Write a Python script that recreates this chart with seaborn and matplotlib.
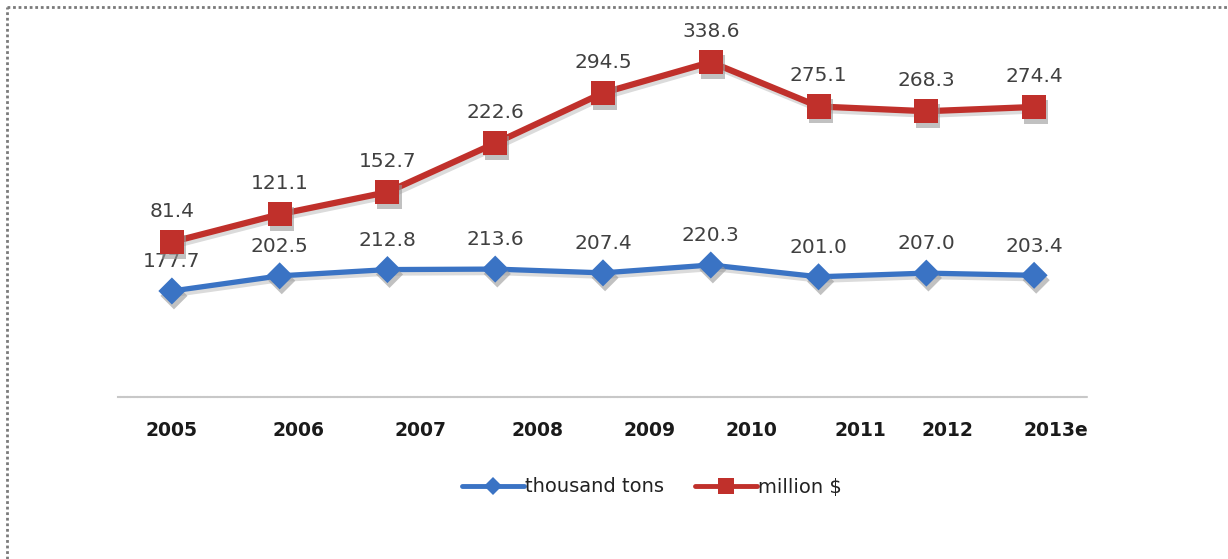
import numpy as np
import matplotlib
matplotlib.use("Agg")
import matplotlib.pyplot as plt
import matplotlib.patheffects as pe
from matplotlib.lines import Line2D
from matplotlib.transforms import ScaledTranslation
import seaborn as sns

# Data
years = ["2005", "2006", "2007", "2008", "2009", "2010", "2011", "2012", "2013e"]
thousand_tons = [177.7, 202.5, 212.8, 213.6, 207.4, 220.3, 201.0, 207.0, 203.4]
million_usd = [81.4, 121.1, 152.7, 222.6, 294.5, 338.6, 275.1, 268.3, 274.4]

BLUE = "#3a73c4"
RED = "#c0302b"
LABEL_GREY = "#404040"

sns.set_theme(style="white")
plt.rcParams["font.family"] = ["DejaVu Sans"]

W, H = 1228, 559
fig = plt.figure(figsize=(W / 100, H / 100), dpi=100)
fig.patch.set_facecolor("white")

# axes box in pixel terms: left 118, right 1088, bottom 397, top 40
ax = fig.add_axes([118 / W, 1 - 397 / H, (1088 - 118) / W, (397 - 40) / H])
ax2 = ax.twinx()

x = np.arange(len(years))

line_shadow = [pe.SimpleLineShadow(offset=(1.5, -2.5), shadow_color="#888888", alpha=0.3), pe.Normal()]
marker_shadow = [pe.SimplePatchShadow(offset=(1.5, -3.5), shadow_rgbFace="#999999", alpha=0.6), pe.Normal()]

# Tonnage series (left scale)
sns.lineplot(x=x, y=thousand_tons, ax=ax, color=BLUE, linewidth=3.8,
             path_effects=line_shadow, legend=False)
sns.scatterplot(x=x, y=thousand_tons, ax=ax, color=BLUE, marker="D", s=190,
                edgecolor="none", path_effects=marker_shadow, legend=False, zorder=3)

# Value series (right scale)
sns.lineplot(x=x, y=million_usd, ax=ax2, color=RED, linewidth=4.5,
             path_effects=line_shadow, legend=False)
sns.scatterplot(x=x, y=million_usd, ax=ax2, color=RED, marker="s", s=300,
                edgecolor="none", path_effects=marker_shadow, legend=False, zorder=3)

ax.set_ylim(4, 589)
ax2.set_ylim(-140.1, 370.1)
ax.set_xlim(-0.5, len(years) - 0.5)

# Value labels above each point
for xi, v in zip(x, thousand_tons):
    ax.annotate(f"{v:.1f}", (xi, v), xytext=(0, 21), textcoords="offset points",
                ha="center", va="center", fontsize=14.5, color=LABEL_GREY)
for xi, v in zip(x, million_usd):
    ax2.annotate(f"{v:.1f}", (xi, v), xytext=(0, 22), textcoords="offset points",
                 ha="center", va="center", fontsize=14.5, color=LABEL_GREY)

# Axis styling
for a in (ax, ax2):
    for side in ("top", "left", "right", "bottom"):
        a.spines[side].set_visible(False)
    a.set_ylabel("")
    a.set_yticks([])
    a.grid(False)
    a.set_facecolor("none")
ax.spines["bottom"].set_visible(True)
ax.spines["bottom"].set_color("#c8c8c8")
ax.spines["bottom"].set_linewidth(1.5)
ax.spines["bottom"].set_linestyle((0, (1, 0.6)))

ax.set_xticks(x)
ax.set_xticklabels(years, fontsize=13.5, fontweight="bold", color="#1a1a1a")
ax.tick_params(axis="x", length=0, pad=17)

# category labels sit slightly right of their points
label_shift_px = [0, 19, 33, 42, 47, 41, 42, 21, 22]
for lbl, dx in zip(ax.get_xticklabels(), label_shift_px):
    lbl.set_transform(lbl.get_transform() + ScaledTranslation(dx / 100, 0, fig.dpi_scale_trans))

# Legend
handles = [
    Line2D([], [], color=BLUE, lw=3.5, marker="D", markersize=9, markeredgewidth=0),
    Line2D([], [], color=RED, lw=3.5, marker="s", markersize=12, markeredgewidth=0),
]
fig.legend(handles, ["thousand tons", "million $"], loc="center",
           bbox_to_anchor=(652 / W, 1 - 487 / H), ncol=2, frameon=False,
           fontsize=14, handlelength=3.2, handletextpad=0.05, columnspacing=1.6,
           labelcolor="#222222")

# Dotted frame along the top and left edges
fig.add_artist(Line2D([7 / W, 7 / W], [0, 1 - 7 / H], transform=fig.transFigure,
                      color="#7a7a7a", lw=2, linestyle=(0, (1, 1))))
fig.add_artist(Line2D([7 / W, 1], [1 - 7 / H, 1 - 7 / H], transform=fig.transFigure,
                      color="#7a7a7a", lw=2, linestyle=(0, (1, 1))))

fig.savefig("out.png", dpi=100, facecolor="white")
